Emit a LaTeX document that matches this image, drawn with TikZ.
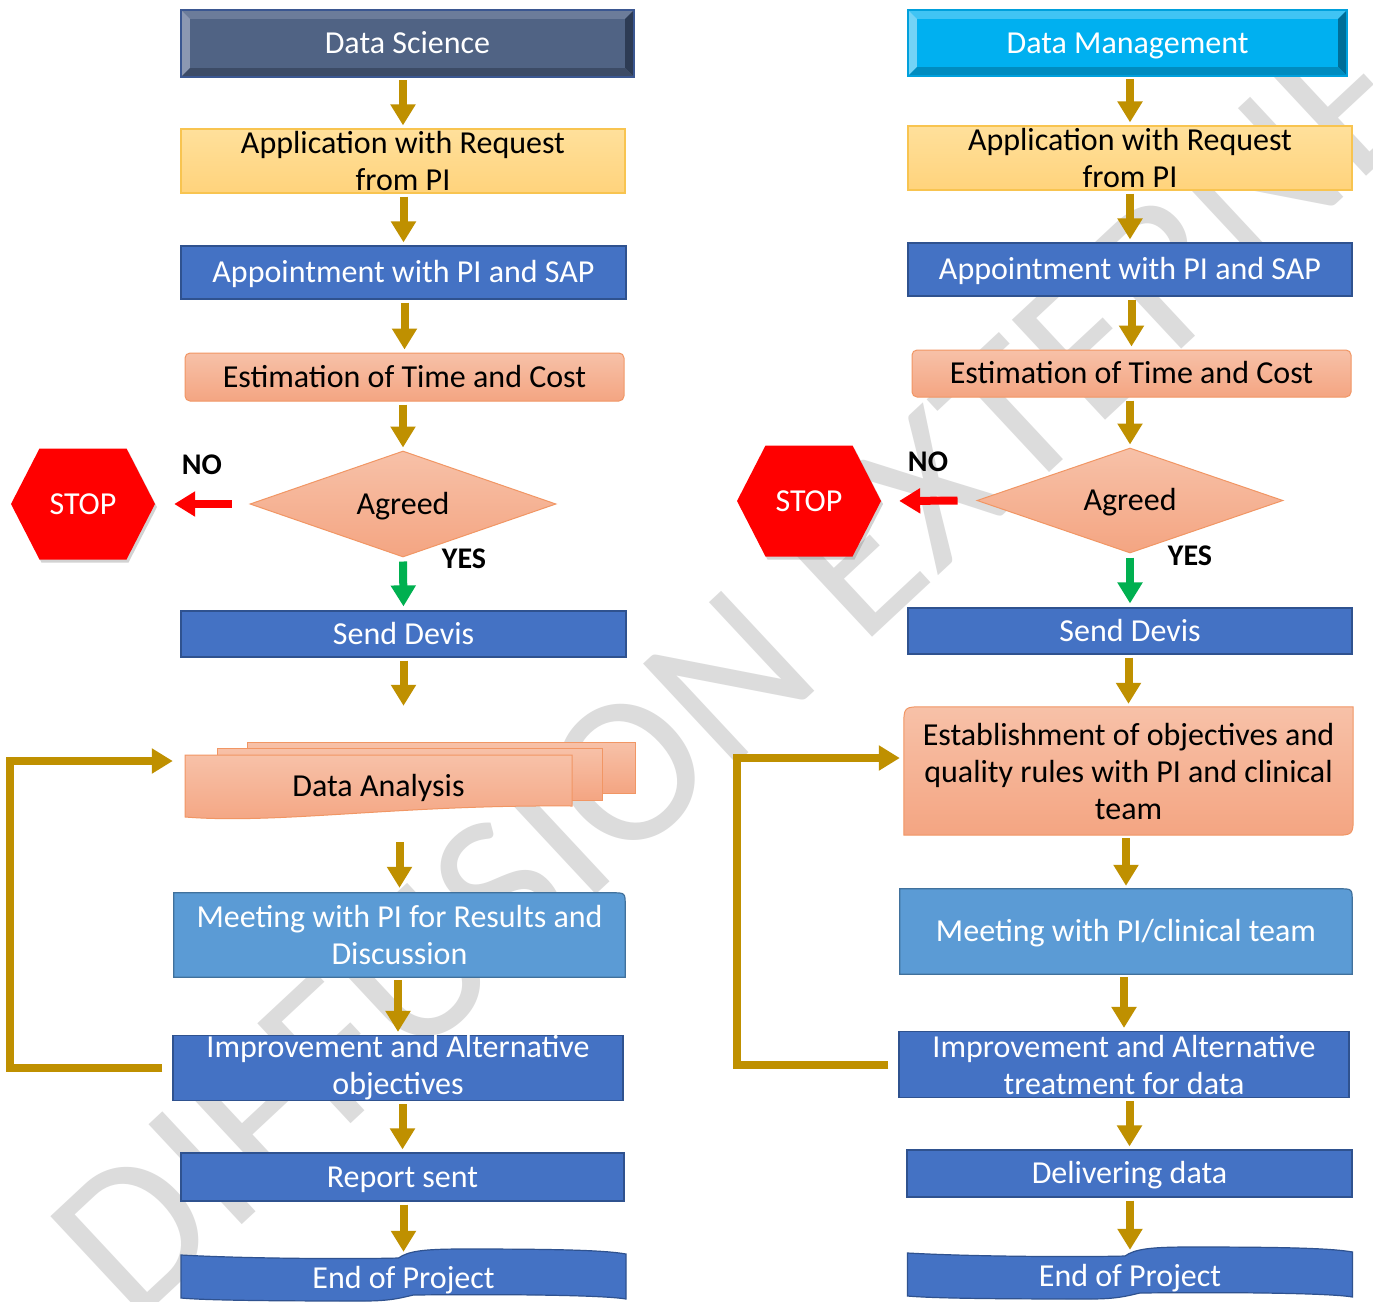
\documentclass[tikz,border=0pt]{standalone}
\usepackage{fontspec}
\setmainfont{Carlito}
\usepackage{tikz}
\usetikzlibrary{arrows.meta,shapes.geometric,backgrounds,shadows}
\usepackage{xcolor}

\definecolor{ArrowGold}{RGB}{191,144,0}
\definecolor{BoxBlue}{RGB}{68,114,196}
\definecolor{BoxBlueLine}{RGB}{47,82,143}
\definecolor{MeetBlue}{RGB}{91,155,213}
\definecolor{MeetLine}{RGB}{65,113,156}
\definecolor{SalmonTop}{RGB}{247,193,168}
\definecolor{SalmonBot}{RGB}{244,165,130}
\definecolor{SalmonLine}{RGB}{241,150,100}
\definecolor{AppTop}{RGB}{255,224,155}
\definecolor{AppBot}{RGB}{255,211,124}
\definecolor{AppLine}{RGB}{248,196,80}
\definecolor{YesGreen}{RGB}{0,176,80}
\definecolor{Mark}{RGB}{220,220,220}
\definecolor{DSMain}{RGB}{80,99,132}
\definecolor{DSTop}{RGB}{108,124,154}
\definecolor{DSLeft}{RGB}{140,152,178}
\definecolor{DSRight}{RGB}{45,59,84}
\definecolor{DSBot}{RGB}{60,75,102}
\definecolor{DSLine}{RGB}{59,87,145}
\definecolor{DMMain}{RGB}{0,176,240}
\definecolor{DMTop}{RGB}{64,196,244}
\definecolor{DMLeft}{RGB}{115,211,246}
\definecolor{DMRight}{RGB}{0,110,152}
\definecolor{DMBot}{RGB}{0,140,192}
\definecolor{DMLine}{RGB}{0,160,220}

\newcommand{\HeadBevel}[6]{%
	\fill[#2] (#1.north west) -- (#1.north east) -- ([shift={(-9pt,-9pt)}]#1.north east) -- ([shift={(9pt,-9pt)}]#1.north west) -- cycle;
	\fill[#3] (#1.north west) -- ([shift={(9pt,-9pt)}]#1.north west) -- ([shift={(9pt,9pt)}]#1.south west) -- (#1.south west) -- cycle;
	\fill[#4] (#1.north east) -- ([shift={(-9pt,-9pt)}]#1.north east) -- ([shift={(-9pt,9pt)}]#1.south east) -- (#1.south east) -- cycle;
	\fill[#5] (#1.south west) -- ([shift={(9pt,9pt)}]#1.south west) -- ([shift={(-9pt,9pt)}]#1.south east) -- (#1.south east) -- cycle;
	\draw[#6, line width=1.5pt] (#1.north west) rectangle (#1.south east);
}
\newcommand{\TapeShape}[1]{%
	\path [TapeFill, shift={(#1.center)}] (-222.5,-23) .. controls (-150,-19) and (-40,-19) .. (-5,-20)
		.. controls (5,-27) and (20,-29) .. (60,-29) .. controls (150,-29) and (200,-28) .. (222.5,-24)
		-- (222.5,21) .. controls (200,17) and (100,16) .. (10,17) .. controls (0,19) and (-10,23) .. (-40,23)
		.. controls (-150,23) and (-200,22) .. (-222.5,20) -- cycle;
}
\newcommand{\StopShape}[1]{%
	\path [StopFill, shift={(#1.center)}] (-72,0) -- (-43.5,-55.5) -- (43.5,-55.5) -- (72,0)
		-- (43.5,55.5) -- (-43.5,55.5) -- cycle;
}

\begin{document}
\begin{tikzpicture}[
			x=1pt, y=-1pt,
			font=\fontsize{32}{37}\selectfont,
			BoxSize/.style 2 args={minimum width=#1pt, minimum height=#2pt},
			PlainText/.style={align=center, inner sep=0pt},
			OneLine/.style={text height=27pt, text depth=7pt},
			HeadBox/.style={PlainText, OneLine, fill=#1, text=white},
			BlueBox/.style={PlainText, draw=BoxBlueLine, line width=1.2pt, fill=BoxBlue, text=white},
			AppBox/.style={PlainText, draw=AppLine, line width=1.2pt, top color=AppTop, bottom color=AppBot},
			SalmonBox/.style={PlainText, draw=SalmonLine, line width=1pt, top color=SalmonTop, bottom color=SalmonBot},
			Decision/.style={SalmonBox, OneLine, diamond, aspect=2.9},
			SalmonFill/.style={draw=SalmonLine, line width=1pt, top color=SalmonTop, bottom color=SalmonBot},
			MeetFill/.style={draw=MeetLine, line width=1.2pt, fill=MeetBlue},
			TapeFill/.style={draw=BoxBlueLine, line width=1.2pt, fill=BoxBlue},
			StopFill/.style={fill=red, drop shadow={shadow xshift=2pt, shadow yshift=-3pt, opacity=0.35}},
			Label/.style={inner sep=0pt, font=\fontsize{30}{30}\selectfont\bfseries},
			GoldArrow/.style={draw=ArrowGold, line width=8pt, -{Triangle[length=21pt, width=24pt]},
				shorten <=3pt, shorten >=3pt},
			LoopArrow/.style={GoldArrow, line join=miter, shorten <=10pt},
			RedArrow/.style={GoldArrow, draw=red},
			GreenArrow/.style={GoldArrow, draw=YesGreen, shorten <=4pt, shorten >=4pt},
			]
			\useasboundingbox (0,0) rectangle (1373,1301);
			\begin{scope}[on background layer]
				\fill[white] (0,0) rectangle (1373,1301);
				\node [rotate=43, text=Mark, inner sep=0pt, font=\fontsize{213}{213}\selectfont] (WM) at (736,671) {DIFFUSION EXTERNE};
			\end{scope}
			% Data Science
			\node [HeadBox=DSMain, BoxSize={453}{67}] (L1) at (407.5,43.5) {Data Science};
			\node [AppBox, BoxSize={444}{64}] (L2) at (403,161) {Application with Request\\from PI};
			\node [BlueBox, OneLine, BoxSize={445}{53}] (L3) at (403.5,272.5) {Appointment with PI and SAP};
			\node [SalmonBox, OneLine, rounded corners=5pt, BoxSize={439}{48}] (L4) at (404.5,377) {Estimation of Time and Cost};
			\node [Decision, BoxSize={306}{106}] (L5) at (403,504) {Agreed};
			\node [BlueBox, OneLine, BoxSize={445}{46}] (L6) at (403.5,634) {Send Devis};
			\node [PlainText, OneLine, BoxSize={387}{63}] (L7) at (378.5,786.5) {Data Analysis};
			\node [PlainText, text=white, BoxSize={451}{84}] (L8) at (399.5,935) {Meeting with PI for Results and\\Discussion};
			\node [BlueBox, BoxSize={450}{65}] (L9) at (398,1068) {Improvement and Alternative\\objectives};
			\node [BlueBox, OneLine, BoxSize={443}{48}] (L10) at (402.5,1177) {Report sent};
			\node [PlainText, OneLine, text=white, BoxSize={445}{52}] (L11) at (403.5,1278) {End of Project};
			\node [PlainText, OneLine, text=white, BoxSize={144}{111}] (S1) at (83,504) {STOP};
			\node [Label] (N1) at (202,465) {NO};
			\node [Label] (Y1) at (464,559) {YES};
			% Data Management
			\node [HeadBox=DMMain, BoxSize={439}{66}] (R1) at (1127.5,43) {Data Management};
			\node [AppBox, BoxSize={444}{64}] (R2) at (1130,158) {Application with Request\\from PI};
			\node [BlueBox, OneLine, BoxSize={444}{53}] (R3) at (1130,269.5) {Appointment with PI and SAP};
			\node [SalmonBox, OneLine, rounded corners=5pt, BoxSize={439}{47}] (R4) at (1131.5,373.5) {Estimation of Time and Cost};
			\node [Decision, BoxSize={306}{105}] (R5) at (1130,500.5) {Agreed};
			\node [BlueBox, OneLine, BoxSize={444}{46}] (R6) at (1130,631) {Send Devis};
			\node [PlainText, BoxSize={449}{128}] (R7) at (1128.5,771) {Establishment of objectives and\\quality rules with PI and clinical\\team};
			\node [PlainText, OneLine, text=white, BoxSize={452}{85}] (R8) at (1126,931.5) {Meeting with PI/clinical team};
			\node [BlueBox, BoxSize={450}{66}] (R9) at (1124,1064.5) {Improvement and Alternative\\treatment for data};
			\node [BlueBox, OneLine, BoxSize={445}{47}] (R10) at (1129.5,1173.5) {Delivering data};
			\node [PlainText, OneLine, text=white, BoxSize={446}{52}] (R11) at (1130,1276) {End of Project};
			\node [PlainText, OneLine, text=white, BoxSize={144}{111}] (S2) at (809,501) {STOP};
			\node [Label] (N2) at (928,462) {NO};
			\node [Label] (Y2) at (1190,556) {YES};

			\HeadBevel{L1}{DSTop}{DSLeft}{DSRight}{DSBot}{DSLine}
			\HeadBevel{R1}{DMTop}{DMLeft}{DMRight}{DMBot}{DMLine}

			\begin{scope}[on background layer]
				\begin{scope}[shift={(L7.center)}]
					\path [SalmonFill] (-131.5,-44.5) rectangle (256.5,6.5);
					\path [SalmonFill] (-161.5,-38.5) rectangle (223.5,13.5);
					\path [SalmonFill] (-193.5,-31.5) -- (193.5,-31.5) -- (193.5,19.5)
						.. controls (20,18) and (-100,38) .. (-193.5,30.5) -- cycle;
				\end{scope}
				\path [MeetFill] (L8.south west) -- (L8.north west) -- ([xshift=-13pt]L8.north east)
					.. controls (L8.north east) .. ([yshift=-13pt]L8.north east) -- (L8.south east) -- cycle;
				\path [MeetFill] (R8.south west) -- (R8.north west) -- ([xshift=-13pt]R8.north east)
					.. controls (R8.north east) .. ([yshift=-13pt]R8.north east) -- (R8.south east) -- cycle;
				\path [SalmonFill] ([xshift=20pt]R7.north west) -- (R7.north east) -- ([yshift=20pt]R7.south east)
					.. controls (R7.south east) .. ([xshift=-20pt]R7.south east) -- (R7.south west)
					-- ([yshift=-20pt]R7.north west) .. controls (R7.north west) .. ([xshift=20pt]R7.north west) -- cycle;
				\TapeShape{L11}
				\TapeShape{R11}
				\StopShape{S1}
				\StopShape{S2}
			\end{scope}

			\draw [GoldArrow] (L2.north |- L1.south) -- (L2.north);
			\draw [GoldArrow] (L3.north |- L2.south) -- (L3.north);
			\draw [GoldArrow] (L4.north |- L3.south) -- (L4.north);
			\draw [GoldArrow] (L5.north |- L4.south) -- (L5.north);
			\draw [GoldArrow, shorten >=49pt] (L6.south) -- (L6.south |- L7.north);
			\draw [GoldArrow, shorten <=24pt, shorten >=5pt] (L8.north |- L7.south) -- (L8.north);
			\draw [GoldArrow] (L9.north |- L8.south) -- (L9.north);
			\draw [GoldArrow] (L10.north |- L9.south) -- (L10.north);
			\draw [GoldArrow, shorten >=0pt] (L11.north |- L10.south) -- (L11.north);
			\draw [GoldArrow] (R2.north |- R1.south) -- (R2.north);
			\draw [GoldArrow] (R3.north |- R2.south) -- (R3.north);
			\draw [GoldArrow] (R4.north |- R3.south) -- (R4.north);
			\draw [GoldArrow] (R5.north |- R4.south) -- (R5.north);
			\draw [GoldArrow] (R7.north |- R6.south) -- (R7.north);
			\draw [GoldArrow] (R8.north |- R7.south) -- (R8.north);
			\draw [GoldArrow] (R9.north |- R8.south) -- (R9.north);
			\draw [GoldArrow] (R10.north |- R9.south) -- (R10.north);
			\draw [GoldArrow, shorten >=0pt] (R11.north |- R10.south) -- (R11.north);
			\draw [RedArrow, shorten <=18pt, shorten >=19pt] (L5.west) -- (S1.east);
			\draw [RedArrow, shorten <=19pt, shorten >=18pt] (R5.west) -- (S2.east);
			\draw [GreenArrow] (L5.south) -- (L6.north);
			\draw [GreenArrow] (R5.south) -- (R6.north);
			\coordinate (LoopL) at (10,761);
			\coordinate (LoopR) at (737,758);
			\draw [LoopArrow, shorten >=12pt] (L9.west) -| (LoopL) -- (LoopL -| L7.west);
			\draw [LoopArrow, shorten >=4pt] (R9.west) -| (LoopR) -- (LoopR -| R7.west);
		\end{tikzpicture}
\end{document}
